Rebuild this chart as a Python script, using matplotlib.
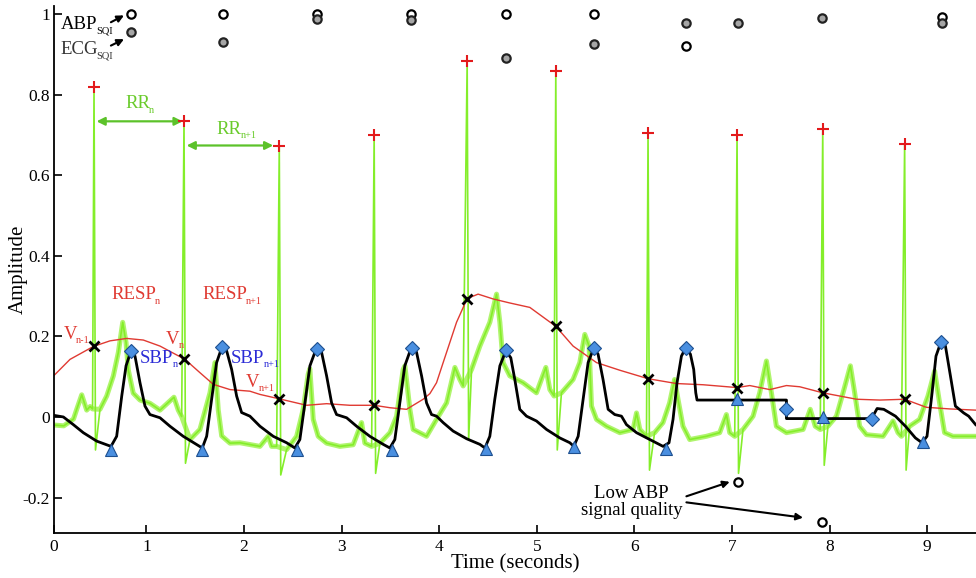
import numpy as np
import matplotlib
matplotlib.use('Agg')
import matplotlib.pyplot as plt

plt.rcParams['font.family'] = ['Liberation Serif', 'DejaVu Serif']

# ---------------- data ----------------
# ECG R peaks
r_times = [0.464, 1.386, 2.362, 3.334, 4.287, 5.195, 6.14, 7.052, 7.93, 8.769]
r_amps = [0.82, 0.736, 0.672, 0.70, 0.883, 0.858, 0.706, 0.70, 0.714, 0.677]
s_amps = [-0.082, -0.115, -0.144, -0.14, -0.057, -0.082, -0.132, -0.14, -0.12, -0.132]

# ECG waveform (P / T waves and baseline) between R spikes
ecg_t = [0.054, 0.154, 0.254, 0.284, 0.338, 0.389, 0.424, 0.449,
         0.525, 0.594, 0.662, 0.713, 0.758, 0.792, 0.815, 0.866, 0.935, 1.037, 1.14, 1.283, 1.327, 1.362,
         1.447, 1.549, 1.652, 1.703, 1.737, 1.772, 1.857, 1.959, 2.164, 2.249, 2.284, 2.335,
         2.437, 2.54, 2.607, 2.658, 2.675, 2.71, 2.761, 2.847, 2.983, 3.119, 3.205, 3.239, 3.308,
         3.393, 3.496, 3.564, 3.631, 3.649, 3.7, 3.734, 3.871, 3.973, 4.076, 4.161, 4.212, 4.246,
         4.332, 4.417, 4.519, 4.588, 4.622, 4.655, 4.724, 4.86, 4.997, 5.093, 5.134, 5.178,
         5.253, 5.372, 5.441, 5.492, 5.536, 5.561, 5.612, 5.714, 5.851, 5.987, 6.022, 6.056, 6.124,
         6.207, 6.293, 6.361, 6.412, 6.447, 6.498, 6.567, 6.738, 6.874, 6.943, 6.977, 7.028,
         7.113, 7.216, 7.284, 7.353, 7.404, 7.455, 7.558, 7.729, 7.802, 7.853, 7.904,
         7.983, 8.07, 8.138, 8.213, 8.257, 8.308, 8.377, 8.548, 8.65, 8.701, 8.736,
         8.82, 8.922, 9.008, 9.076, 9.127, 9.178, 9.263, 9.496]
ecg_v = [-0.02, -0.022, -0.005, 0.017, 0.055, 0.017, 0.026, 0.02,
         0.019, 0.052, 0.102, 0.16, 0.235, 0.185, 0.117, 0.059, 0.042, 0.034, 0.017, 0.049, 0.017, 0.001,
         -0.056, -0.031, 0.06, 0.135, 0.017, -0.047, -0.065, -0.064, -0.073, -0.048, -0.073, -0.073,
         -0.081, -0.048, 0.019, 0.106, 0.12, -0.006, -0.048, -0.065, -0.073, -0.069, -0.014, -0.065, -0.073,
         -0.065, -0.039, 0.002, 0.118, 0.127, 0.019, -0.031, -0.048, -0.006, 0.035, 0.123, 0.093, 0.077,
         0.118, 0.176, 0.235, 0.305, 0.235, 0.135, 0.102, 0.085, 0.06, 0.123, 0.068, 0.052,
         0.06, 0.093, 0.135, 0.205, 0.176, 0.027, -0.006, -0.023, -0.039, -0.031, 0.01, -0.031, -0.048,
         -0.039, -0.014, 0.035, 0.093, 0.044, -0.023, -0.056, -0.048, -0.039, 0.006, -0.039, -0.048,
         -0.031, 0.002, 0.06, 0.139, 0.06, -0.023, -0.039, -0.031, 0.019, -0.023, -0.031,
         -0.023, 0.002, 0.06, 0.127, 0.06, -0.023, -0.044, -0.048, -0.01, -0.039, -0.048,
         -0.023, -0.006, 0.052, 0.114, 0.035, -0.039, -0.048, -0.048]

# Respiration (red)
resp_t = [0.054, 0.218, 0.457, 0.628, 0.799, 0.969, 1.14, 1.396, 1.549, 1.686, 1.857, 2.061, 2.164,
          2.362, 2.642, 2.847, 3.086, 3.334, 3.495, 3.666, 3.836, 3.905, 3.973, 4.041, 4.178, 4.287,
          4.399, 4.553, 4.724, 4.929, 5.195, 5.372, 5.612, 5.851, 6.14, 6.431, 6.704, 7.052, 7.182,
          7.387, 7.558, 7.694, 7.93, 8.277, 8.516, 8.769, 8.991, 9.23, 9.496]
resp_v = [0.103, 0.143, 0.175, 0.189, 0.195, 0.191, 0.176, 0.143, 0.11, 0.081, 0.068, 0.064, 0.056,
          0.045, 0.029, 0.033, 0.029, 0.029, 0.023, 0.019, 0.044, 0.058, 0.085, 0.135, 0.235, 0.294,
          0.305, 0.293, 0.283, 0.272, 0.225, 0.176, 0.135, 0.116, 0.095, 0.083, 0.08, 0.073, 0.078,
          0.068, 0.078, 0.075, 0.06, 0.044, 0.042, 0.044, 0.024, 0.02, 0.017]

# Arterial blood pressure (black)
abp_t = [0.054, 0.15, 0.252, 0.354, 0.492, 0.638, 0.696, 0.748, 0.792, 0.843, 0.884, 0.935, 0.986,
         1.037, 1.14, 1.242, 1.378, 1.573, 1.618, 1.669, 1.72, 1.778, 1.823, 1.874, 1.925, 1.976,
         2.061, 2.164, 2.3, 2.437, 2.522, 2.573, 2.625, 2.676, 2.744, 2.796, 2.847, 2.898, 2.949,
         3.052, 3.154, 3.29, 3.427, 3.495, 3.546, 3.597, 3.648, 3.717, 3.768, 3.82, 3.871, 3.922,
         3.973, 4.041, 4.143, 4.281, 4.417, 4.469, 4.519, 4.57, 4.622, 4.683, 4.734, 4.775, 4.826,
         4.895, 4.997, 5.1, 5.236, 5.339, 5.38, 5.424, 5.475, 5.526, 5.584, 5.628, 5.679, 5.731,
         5.799, 5.868, 5.919, 6.022, 6.158, 6.294, 6.355, 6.396, 6.437, 6.482, 6.526, 6.574, 6.608,
         6.629, 6.642, 7.558, 7.558, 8.43, 8.487, 8.555, 8.675, 8.777, 8.879, 8.947, 8.998, 9.05,
         9.09, 9.142, 9.187, 9.238, 9.289, 9.374, 9.425, 9.496]
abp_v = [0.004, 0.0, -0.019, -0.039, -0.06, -0.073, -0.048, 0.052, 0.127, 0.164, 0.151, 0.085, 0.027,
         0.006, -0.002, -0.023, -0.048, -0.077, -0.048, 0.044, 0.135, 0.176, 0.164, 0.118, 0.052, 0.011,
         0.002, -0.023, -0.048, -0.064, -0.077, -0.056, 0.035, 0.127, 0.172, 0.16, 0.102, 0.035, 0.006,
         -0.002, -0.023, -0.048, -0.068, -0.077, -0.056, 0.035, 0.127, 0.174, 0.161, 0.102, 0.035, 0.006,
         0.002, -0.014, -0.035, -0.054, -0.068, -0.077, -0.048, 0.044, 0.127, 0.164, 0.147, 0.093, 0.019,
         0.002, -0.01, -0.031, -0.052, -0.064, -0.073, -0.048, 0.044, 0.135, 0.171, 0.156, 0.093, 0.019,
         0.006, 0.002, -0.019, -0.039, -0.056, -0.073, -0.064, -0.006, 0.085, 0.151, 0.172, 0.156, 0.118,
         0.06, 0.042, 0.042, -0.004, -0.004, 0.021, 0.019, 0.002, -0.023, -0.052, -0.064, -0.048, 0.06,
         0.151, 0.187, 0.176, 0.102, 0.027, 0.01, 0.002, -0.019]

# SBP (diamonds) and onset/DBP (triangles)
sbp_t = [0.843, 1.778, 2.744, 3.717, 4.683, 5.584, 6.526, 7.558, 8.43, 9.142]
sbp_v = [0.163, 0.173, 0.168, 0.17, 0.166, 0.172, 0.171, 0.021, -0.004, 0.187]
onset_t = [0.638, 1.573, 2.54, 3.513, 4.48, 5.38, 6.329, 7.052, 7.93, 8.959]
onset_v = [-0.083, -0.083, -0.083, -0.083, -0.08, -0.075, -0.08, 0.044, 0.0, -0.062]

# Respiration samples at R peaks (V markers)
vmark_v = [0.175, 0.143, 0.045, 0.029, 0.294, 0.225, 0.095, 0.073, 0.06, 0.044]

# Signal quality indices
sqi_t = [0.843, 1.785, 2.747, 3.71, 4.683, 5.584, 6.526, 7.058, 7.919, 9.148]
abp_sqi = [1.0, 1.0, 1.0, 1.0, 1.0, 1.0, 0.921, -0.162, -0.26, 0.994]
ecg_sqi = [0.955, 0.93, 0.988, 0.985, 0.89, 0.925, 0.979, 0.977, 0.99, 0.979]

x_ticks = [1, 2, 3, 4, 5, 6, 7, 8, 9]
y_ticks = [-0.2, 0, 0.2, 0.4, 0.6, 0.8, 1]
y_ticklabels = ['-0.2', '0', '0.2', '0.4', '0.6', '0.8', '1']

# ---------------- figure ----------------
GREEN = '#84ee2a'
RED = '#e03a32'
BLUE = '#4a8fe0'
SPIKE_W = 0.015

fig = plt.figure(figsize=(9.76, 5.78), dpi=100)
ax = fig.add_axes([54 / 976, 0.0779, 1 - 54 / 976, 0.9115])
xmin, xmax = 0.054, 9.5
ax.set_xlim(xmin, xmax)
ax.set_ylim(-0.288, 1.02)

# ECG: merge waveform with R spikes
all_t = list(ecg_t) + list(r_times) + [t + SPIKE_W for t in r_times]
all_v = list(ecg_v) + list(r_amps) + list(s_amps)
order = np.argsort(all_t, kind='stable')
all_t = np.asarray(all_t)[order]
all_v = np.asarray(all_v)[order]
ax.plot(ecg_t, ecg_v, color='#9cf24a', lw=3.6, alpha=0.8, solid_joinstyle='round', zorder=1)
ax.plot(all_t, all_v, color=GREEN, lw=1.2, zorder=1.5)

ax.plot(resp_t, resp_v, color=RED, lw=1.0, zorder=2)
ax.plot(abp_t, abp_v, color='black', lw=2.0, zorder=3)

ax.plot(r_times, r_amps, linestyle='none', marker='+', color='#e31a1c', ms=8.5, mew=1.5, zorder=5)
ax.plot(r_times, vmark_v, linestyle='none', marker='x', color='black', ms=6.5, mew=2, zorder=5)
ax.plot(sbp_t, sbp_v, linestyle='none', marker='D', ms=7, mfc=BLUE, mec='#1d4f8f', mew=0.8, zorder=6)
ax.plot(onset_t, onset_v, linestyle='none', marker='^', ms=8.5, mfc=BLUE, mec='#1d4f8f', mew=0.8, zorder=6)

ax.plot(sqi_t, abp_sqi, linestyle='none', marker='o', ms=6, mfc='white', mec='black', mew=1.6, zorder=6)
ax.plot(sqi_t, ecg_sqi, linestyle='none', marker='o', ms=6, mfc='#a6a6a6', mec='#222222', mew=1.6, zorder=6)

# ---------------- annotations ----------------
FS, SFS = 13.5, 7.5


def sub_label(x, y, main, sub, color):
    t = ax.text(x, y, main, fontsize=FS, color=color, ha='left', va='center', zorder=7)
    ax.annotate(sub, xy=(1, 0), xycoords=t, xytext=(-0.6, -0.3), textcoords='offset points',
                fontsize=SFS, color=color, ha='left', va='baseline', zorder=7)
    return t


sub_label(0.126, 0.975, 'ABP', 'SQI', 'black')
sub_label(0.116, 0.912, 'ECG', 'SQI', '#333333')
arrow_k = dict(arrowstyle='-|>', color='black', lw=1.5, mutation_scale=10, shrinkA=0, shrinkB=0)
ax.annotate('', xy=(0.771, 0.997), xytext=(0.637, 0.98), arrowprops=arrow_k)
ax.annotate('', xy=(0.771, 0.938), xytext=(0.637, 0.922), arrowprops=arrow_k)

RRC = '#6acb2c'
rr_k = dict(arrowstyle='<|-|>', color='#5cc22a', lw=1.6, mutation_scale=12, shrinkA=0, shrinkB=0)
ax.annotate('', xy=(1.372, 0.734), xytext=(0.49, 0.734), arrowprops=rr_k)
ax.annotate('', xy=(2.30, 0.674), xytext=(1.413, 0.674), arrowprops=rr_k)
sub_label(0.782, 0.778, 'RR', 'n', RRC)
sub_label(1.72, 0.714, 'RR', 'n+1', RRC)

sub_label(0.638, 0.303, 'RESP', 'n', RED)
sub_label(1.573, 0.303, 'RESP', 'n+1', RED)
sub_label(0.15, 0.205, 'V', 'n-1', RED)
sub_label(1.201, 0.193, 'V', 'n', RED)
sub_label(2.02, 0.086, 'V', 'n+1', RED)
sub_label(0.935, 0.146, 'SBP', 'n', '#2b2bd6')
sub_label(1.867, 0.146, 'SBP', 'n+1', '#2b2bd6')

ax.text(5.97, -0.21, 'Low ABP\nsignal quality', fontsize=FS, ha='center', va='center', linespacing=1.0)
ax.annotate('', xy=(6.977, -0.161), xytext=(6.533, -0.197), arrowprops=arrow_k)
ax.annotate('', xy=(7.728, -0.25), xytext=(6.533, -0.212), arrowprops=arrow_k)

# ---------------- axes styling ----------------
ax.spines['top'].set_visible(False)
ax.spines['right'].set_visible(False)
ax.spines['left'].set_linewidth(1.3)
ax.spines['bottom'].set_linewidth(1.3)
ax.set_xticks([xmin] + x_ticks)
ax.set_xticklabels(['0'] + [str(v) for v in x_ticks])
ax.set_yticks(y_ticks)
ax.set_yticklabels(y_ticklabels)
ax.tick_params(direction='in', length=6, width=1.2, labelsize=12.5)
ax.tick_params(axis='y', pad=3)
ax.tick_params(axis='x', pad=4)
ax.set_xlabel('Time (seconds)', fontsize=15)
ax.xaxis.set_label_coords(0.5, -0.04)
ax.set_ylabel('Amplitude', fontsize=15)
ax.yaxis.set_label_coords(-0.028, 0.5)

fig.savefig('out.png', dpi=100)
